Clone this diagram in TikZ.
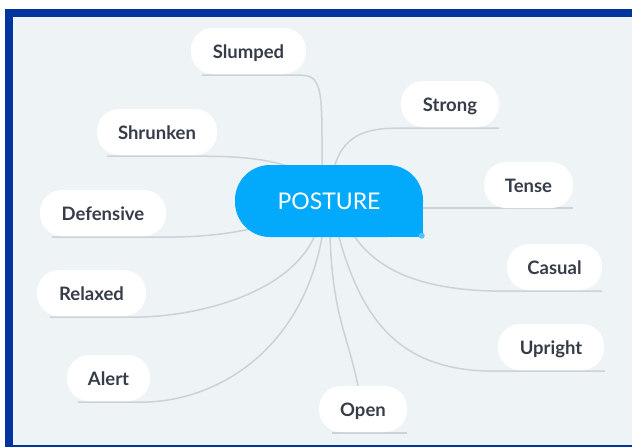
\documentclass[tikz,border=0pt]{standalone}
\usepackage{fontspec}
\setmainfont{Lato}
\definecolor{bgc}{RGB}{238,243,246}
\definecolor{framec}{RGB}{2,52,160}
\definecolor{lnc}{RGB}{205,210,214}
\definecolor{ctrc}{RGB}{3,169,251}
\definecolor{dotc}{RGB}{80,195,255}
\definecolor{txtc}{RGB}{55,61,72}
\pgfdeclarelayer{backlayer}
\pgfdeclarelayer{linelayer}
\pgfsetlayers{backlayer,linelayer,main}
\begin{document}
\begin{tikzpicture}[x=1pt,y=-1pt,
  leaf/.style={fill=white, rounded corners=22pt, minimum height=46pt, inner sep=0pt,
    text height=15pt, text depth=0pt,
    text=txtc, font=\fontsize{18.5}{22}\selectfont\bfseries},
  center/.style={fill=ctrc, rounded corners=35pt, minimum width=188pt, minimum height=72pt,
    inner sep=0pt, text height=17pt, text depth=0pt, text=white, font=\fontsize{23}{27}\selectfont},
  branch/.style={draw=lnc, line width=1.5pt}]
\useasboundingbox (0,0) rectangle (632,447);
\begin{pgfonlayer}{backlayer}
\fill[white] (0,0) rectangle (632,447);
\fill[framec] (5,9) rectangle (632,447);
\fill[bgc] (13,17) rectangle (632,445);
\end{pgfonlayer}

% nodes
\node[center] (c) at (329,201) {POSTURE};
\fill[ctrc] ([xshift=-36,yshift=36]c.south east) rectangle (c.south east);
\fill[dotc] ([xshift=-1.5,yshift=1.5]c.south east) circle[radius=3pt];

\node[leaf, minimum width=115pt] (sl) at (248.5,51) {Slumped};
\node[leaf, minimum width=120pt] (sh) at (157,132) {Shrunken};
\node[leaf, minimum width=126pt] (de) at (103,213) {Defensive};
\node[leaf, minimum width=109pt] (re) at (91.5,293) {Relaxed};
\node[leaf, minimum width=83pt]  (al) at (108.5,378) {Alert};
\node[leaf, minimum width=88pt]  (op) at (363,409) {Open};
\node[leaf, minimum width=98pt]  (st) at (450,104) {Strong};
\node[leaf, minimum width=89pt]  (te) at (528.5,185) {Tense};
\node[leaf, minimum width=95pt]  (ca) at (554.5,267) {Casual};
\node[leaf, minimum width=106pt] (up) at (551,347) {Upright};

% branches
\begin{pgfonlayer}{linelayer}
\draw[branch] ([xshift=-7]c.north) .. controls +(0,-70) and +(22,0) .. ([xshift=-5,yshift=-1]sl.south east) -- ([xshift=11,yshift=-1]sl.south west);
\draw[branch] ([xshift=-39,yshift=-2]c.north) .. controls +(-25,-8) and +(40,0) .. ([xshift=-17,yshift=-1]sh.south east) -- ([xshift=10,yshift=-1]sh.south west);
\draw[branch] ([xshift=15,yshift=8]c.south west) .. controls +(-30,6) and +(40,0) .. ([xshift=-10,yshift=-1]de.south east) -- ([xshift=12,yshift=-1]de.south west);
\draw[branch] ([xshift=-15]c.south) .. controls +(-25,55) and +(70,0) .. ([xshift=-15,yshift=-1]re.south east) -- ([xshift=13,yshift=-1]re.south west);
\draw[branch] ([xshift=-7]c.south) .. controls +(-20,110) and +(80,0) .. ([xshift=-10,yshift=-1]al.south east) -- ([xshift=11,yshift=-1]al.south west);
\draw[branch] ([xshift=1]c.south) .. controls +(3,80) and +(-10,-50) .. ([xshift=-5]op.north);
\draw[branch] ([xshift=13,yshift=-1]op.south west) -- ([yshift=-1]op.south east);
\draw[branch] ([xshift=6]c.north) .. controls +(8,-25) and +(-35,0) .. ([xshift=-104,yshift=-1]st.south east) -- ([yshift=-1]st.south east);
\draw[branch] ([xshift=-5,yshift=-7]c.east) -- ([yshift=-7]c.east -| te.south east);
\draw[branch] ([xshift=26]c.south) .. controls +(25,35) and +(-80,0) .. ([xshift=-97,yshift=-1]ca.south east) -- ([yshift=-1]ca.south east);
\draw[branch] ([xshift=10]c.south) .. controls +(25,90) and +(-90,0) .. ([xshift=-109,yshift=-1]up.south east) -- ([xshift=1,yshift=-1]up.south east);
\end{pgfonlayer}
\end{tikzpicture}
\end{document}
